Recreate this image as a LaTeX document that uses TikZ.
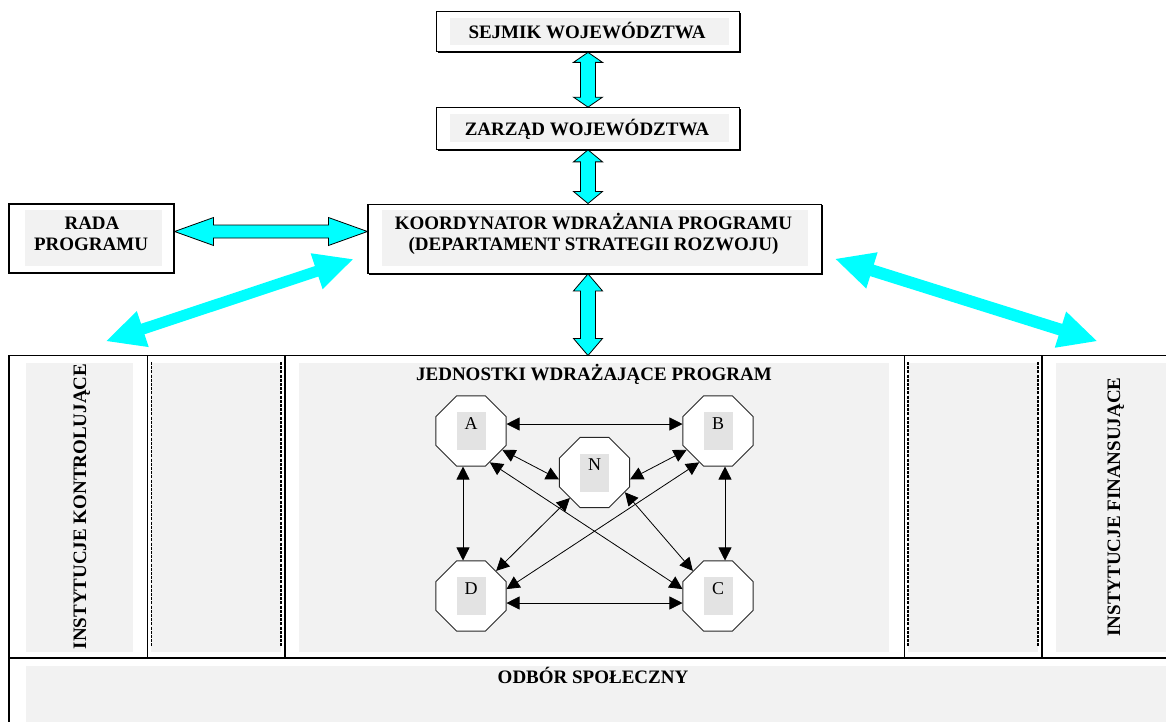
\documentclass[tikz,border=0pt]{standalone}
\usepackage{fontspec}
\setmainfont{Liberation Serif}
\usetikzlibrary{calc,shapes.geometric,arrows.meta,shadows}
\definecolor{aqua}{RGB}{0,255,255}
\definecolor{panelgray}{RGB}{242,242,242}
\definecolor{innergray}{RGB}{227,227,227}
\definecolor{edgegray}{RGB}{40,40,40}
% fat double arrow: [style]{from}{to}{shaft half width}{head half width}{head length}
\newcommand\fatarr[6][]{%
  \path (#2) coordinate (fas) (#3) coordinate (fae);
  \path ($(fas)!#6!(fae)$) coordinate (faa) ($(fae)!#6!(fas)$) coordinate (fab);
  \path[#1] (fas) -- ($(faa)!#5!90:(fae)$) -- ($(faa)!#4!90:(fae)$)
    -- ($(fab)!#4!-90:(fas)$) -- ($(fab)!#5!-90:(fas)$) -- (fae)
    -- ($(fab)!#5!90:(fas)$) -- ($(fab)!#4!90:(fas)$)
    -- ($(faa)!#4!-90:(fae)$) -- ($(faa)!#5!-90:(fae)$) -- cycle;}
\begin{document}
\begin{tikzpicture}[x=1pt,y=-1pt,
  box/.style={draw=black, line width=1.1pt, fill=white, inner sep=0pt,
    drop shadow={shadow xshift=1.2pt, shadow yshift=-1.2pt, fill=black, opacity=1}},
  lbl/.style={font=\fontsize{19}{22}\selectfont\bfseries, inner sep=0pt, anchor=base},
  octo/.style={regular polygon, regular polygon sides=8, minimum size=75.8pt,
    inner sep=0pt, draw=edgegray, line width=1pt, fill=white},
  octin/.style={fill=innergray, minimum width=29pt, minimum height=38pt, inner sep=0pt},
  octl/.style={font=\fontsize{18}{20}\selectfont, inner sep=0pt, anchor=base},
  thinarr/.style={line width=0.8pt,
    {Triangle[length=13pt,width=13pt]}-{Triangle[length=13pt,width=13pt]}},
  fatb/.style={fill=aqua, draw=black, line width=0.8pt, line join=miter},
  fatd/.style={fill=aqua},
  pan/.style={fill=panelgray},
  sepline/.style={line width=1.4pt},
  dsh/.style={dash pattern=on 3pt off 1.2pt, line width=1.3pt},
]
\useasboundingbox (0,0) rectangle (1166,721);
\clip (0,0) rectangle (1166,721);

% ---- bottom frame panels ----
\fill[pan] (26,363) rectangle (133,652);
\fill[pan] (151,363) rectangle (281,652);
\fill[pan] (298.5,363) rectangle (889,652);
\fill[pan] (907.5,363) rectangle (1038,652);
\fill[pan] (1056,363) rectangle (1172,652);
\fill[pan] (26,666) rectangle (1172,727);
\coordinate (top) at (0,355.5);
\draw[sepline] (9,727) -- (9,355.5) -- (1172,355.5);
\draw[sepline] (9,658) -- (1172,658);
\draw[sepline] (147.5,355.5) -- (147.5,658);
\draw[sepline] (285,355.5) -- (285,658);
\draw[sepline] (904.5,355.5) -- (904.5,658);
\draw[sepline] (1042,355.5) -- (1042,658);
\draw[dsh] (151.5,362) -- (151.5,646);
\draw[dsh] (281,362) -- (281,646);
\draw[dsh] (908,362) -- (908,646);
\draw[dsh] (1038,362) -- (1038,646);

\node[lbl, rotate=90] (kon) at (86,506.5) {INSTYTUCJE KONTROLUJĄCE};
\node[lbl, rotate=90] (fin) at (1120,507) {INSTYTUCJE FINANSUJĄCE};
\node[lbl] (jed) at (594,380) {JEDNOSTKI WDRAŻAJĄCE PROGRAM};
\node[lbl] (odb) at (593,683) {ODBÓR SPOŁECZNY};

% ---- top boxes ----
\node[box, minimum width=303pt, minimum height=40pt] (sej) at (588,31.8) {};
\node[box, minimum width=303pt, minimum height=41.6pt] (zar) at (588,128.5) {};
\node[box, minimum width=453.6pt, minimum height=69.3pt] (koord) at (594.8,238.7) {};
\node[box, minimum width=165pt, minimum height=69pt] (rada) at (91.5,238.5) {};
\fill[pan] ([shift={(14pt,-6.7pt)}]sej.north west) rectangle ([shift={(-11pt,7.5pt)}]sej.south east);
\fill[pan] ([shift={(14pt,-7.3pt)}]zar.north west) rectangle ([shift={(-11pt,7.6pt)}]zar.south east);
\fill[pan] ([shift={(15pt,-6.7pt)}]koord.north west) rectangle ([shift={(-14pt,8.3pt)}]koord.south east);
\fill[pan] ([shift={(17pt,-6.7pt)}]rada.north west) rectangle ([shift={(-13pt,8pt)}]rada.south east);
\node[lbl] (sejt) at (587,38.3) {SEJMIK WOJEWÓDZTWA};
\node[lbl] (zart) at (587,135) {ZARZĄD WOJEWÓDZTWA};
\node[lbl] (kt1) at (593.5,229.3) {KOORDYNATOR WDRAŻANIA PROGRAMU};
\node[lbl] (kt2) at (593.5,250.7) {(DEPARTAMENT STRATEGII ROZWOJU)};
\node[lbl] (rt1) at (92,229.3) {RADA};
\node[lbl] (rt2) at (91,250.7) {PROGRAMU};

% ---- cyan arrows ----
\fatarr[fatb]{sej.south}{zar.north}{7.5pt}{14.5pt}{10pt}
\fatarr[fatb]{zar.south}{zar.south |- koord.north}{7.5pt}{14.5pt}{12pt}
\fatarr[fatb]{zar.south |- koord.south}{zar.south |- top}{7.5pt}{14.5pt}{17pt}
\coordinate (rl) at ([yshift=7pt]rada.east);
\fatarr[fatb]{rl}{rl -| koord.west}{6.5pt}{14pt}{39pt}
\coordinate (dl1) at (106.7,341);
\coordinate (dl2) at (352.7,259.3);
\coordinate (dr1) at (835.7,259);
\coordinate (dr2) at (1096.7,341);
\fatarr[fatd]{dl1}{dl2}{5.5pt}{19pt}{38pt}
\fatarr[fatd]{dr1}{dr2}{6pt}{19pt}{38pt}

% ---- octagons ----
\foreach \n/\px/\py in {A/471/431, B/718/431, N/594.5/472.5, D/471/596, C/718/596}{
  \node[octo] (\n) at (\px,\py) {};
  \node[octin] (\n g) at (\n) {};
  \node[octl] (\n t) at ([yshift=1.7pt]\n.center) {\n};
}
\draw[thinarr] ([yshift=7pt]A.east) -- ([yshift=7pt]B.west);
\draw[thinarr] ([yshift=-7pt]D.east) -- ([yshift=-7pt]C.west);
\draw[thinarr] ([xshift=-8pt]A.south) -- ([xshift=-8pt]D.north);
\draw[thinarr] ([xshift=7pt]B.south) -- ([xshift=7pt]C.north);
\draw[thinarr] (A.-31) -- (N.191);
\draw[thinarr] (B.211) -- (N.-11);
\draw[thinarr] (A.-59) -- (C.169);
\draw[thinarr] (B.239) -- (D.11);
\draw[thinarr] (N.226) -- (D.45);
\draw[thinarr] (N.-33) -- (C.135);
\end{tikzpicture}
\end{document}
